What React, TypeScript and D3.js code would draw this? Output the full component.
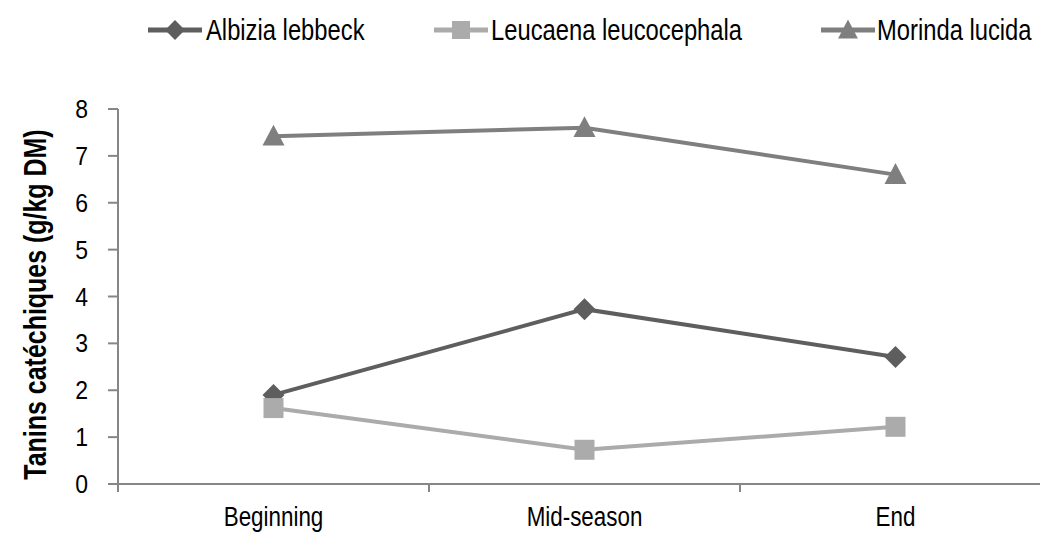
import React from "react";
import * as d3 from "d3";

const categories = ["Beginning", "Mid-season", "End"];
const albizia = [1.9, 3.73, 2.71];
const leucaena = [1.62, 0.73, 1.22];
const morinda = [7.42, 7.6, 6.6];
const yTicks = [0, 1, 2, 3, 4, 5, 6, 7, 8];
const seriesNames = ["Albizia lebbeck", "Leucaena leucocephala", "Morinda lucida"];

const W = 1040, H = 533;
const left = 118, right = 1051, top = 109, bottom = 484;
const FONT = "'Liberation Sans', Arial, sans-serif";

function CText(props: {
  x: number; y: number; sx: number; size: number; anchor?: string; bold?: boolean; rotate?: number; children: React.ReactNode;
}) {
  const { x, y, sx, size, anchor, bold, rotate, children } = props;
  return (
    <text
      transform={`translate(${x},${y})${rotate ? ` rotate(${rotate})` : ""} scale(${sx},1)`}
      fontSize={size}
      fontWeight={bold ? "bold" : "normal"}
      textAnchor={anchor || "start"}
      fill="#000"
    >
      {children}
    </text>
  );
}

export default function App() {
  const x = d3.scaleBand<string>().domain(categories).range([left, right]);
  const y = d3.scaleLinear().domain([0, 8]).range([bottom, top]);
  const cx = (i: number) => x(categories[i])! + x.bandwidth() / 2;
  const line = d3.line<number>().x((_, i) => cx(i)).y((d) => y(d));

  const series = [
    { name: seriesNames[0], data: albizia, color: "#5e5e5e", shape: "diamond" },
    { name: seriesNames[1], data: leucaena, color: "#ababab", shape: "square" },
    { name: seriesNames[2], data: morinda, color: "#7f7f7f", shape: "triangle" },
  ];

  const marker = (shape: string, mx: number, my: number, color: string, s: number) => {
    if (shape === "diamond") {
      const r = s * 0.55;
      return <path d={`M${mx},${my - r}L${mx + r},${my}L${mx},${my + r}L${mx - r},${my}Z`} fill={color} />;
    }
    if (shape === "square") {
      const r = s * 0.5;
      return <rect x={mx - r} y={my - r} width={2 * r} height={2 * r} fill={color} />;
    }
    const r = s * 0.55;
    return <path d={`M${mx},${my - r * 1.05}L${mx + r},${my + r * 0.85}L${mx - r},${my + r * 0.85}Z`} fill={color} />;
  };

  const legendPos = [
    { lx: 148, tx: 206 },
    { lx: 434, tx: 491 },
    { lx: 821, tx: 877 },
  ];
  const legendY = 30;

  return (
    <svg width={W} height={H} style={{ position: "absolute", left: 0, top: 0, background: "#fff" }} fontFamily={FONT}>
      {/* legend */}
      {series.map((s, i) => (
        <g key={s.name}>
          <line x1={legendPos[i].lx} x2={legendPos[i].lx + 54} y1={legendY} y2={legendY} stroke={s.color} strokeWidth={5} />
          {marker(s.shape, legendPos[i].lx + 27, legendY, s.color, 18)}
          <CText x={legendPos[i].tx} y={40} size={29} sx={0.82}>{s.name}</CText>
        </g>
      ))}

      {/* y axis */}
      <line x1={left} x2={left} y1={top} y2={bottom + 8} stroke="#868686" strokeWidth={2} />
      {yTicks.map((t) => (
        <g key={t}>
          <line x1={left - 10} x2={left} y1={y(t)} y2={y(t)} stroke="#868686" strokeWidth={2} />
          <CText x={88} y={y(t) + 9} size={25} sx={0.92} anchor="end">{t}</CText>
        </g>
      ))}
      <CText x={46} y={(top + bottom) / 2 + 8} size={32} sx={0.78} bold anchor="middle" rotate={-90}>
        Tanins catéchiques (g/kg DM)
      </CText>

      {/* x axis */}
      <line x1={left - 10} x2={W} y1={bottom} y2={bottom} stroke="#868686" strokeWidth={2} />
      {categories.map((c, i) => (
        <g key={c}>
          {i > 0 && <line x1={x(c)!} x2={x(c)!} y1={bottom} y2={bottom + 8} stroke="#868686" strokeWidth={2} />}
          <CText x={cx(i)} y={526} size={28} sx={0.8} anchor="middle">{c}</CText>
        </g>
      ))}

      {/* series */}
      {series.map((s) => (
        <g key={s.name}>
          <path d={line(s.data)!} fill="none" stroke={s.color} strokeWidth={4} />
          {s.data.map((v, i) => (
            <g key={i}>{marker(s.shape, cx(i), y(v), s.color, 20)}</g>
          ))}
        </g>
      ))}
    </svg>
  );
}
